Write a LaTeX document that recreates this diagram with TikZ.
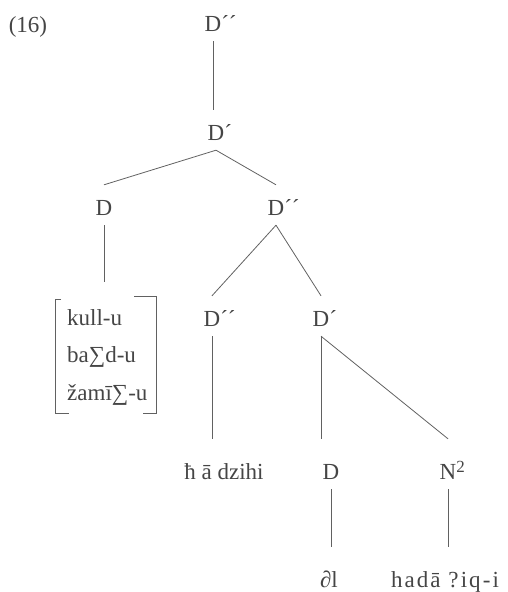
\documentclass[tikz,border=0pt]{standalone}
\usepackage{fontspec}
\setmainfont{Liberation Serif}
\usepackage{tikz}
\definecolor{Ink}{rgb}{0.27,0.27,0.27}
\tikzset{
  cat/.style={anchor=base, inner sep=0pt, text height=30pt, text depth=10pt},
  low/.style={cat, text height=40pt},
  leaf/.style={cat, text height=40pt},
  branch/.style={line width=0.8pt, Ink!85}
}

\begin{document}
\begin{tikzpicture}[x=1pt, y=-1pt, font=\fontsize{23}{37.5}\selectfont, color=Ink]
    \useasboundingbox (0,0) rectangle (508,592);
    \node[anchor=base] (ex) at (28,32) {(16)};
    % categories, placed at their baselines
    \node[cat] (top)  at (213,31)  {D\rlap{´´}};
    \node[cat] (dp1)  at (216,140) {D\rlap{´}};
    \node[cat] (d1)   at (104,215) {D};
    \node[cat] (dpp2) at (276,215) {D\rlap{´´}};
    \node[cat] (dpp3) at (212,326) {D\rlap{´´}};
    \node[cat] (dp2)  at (321,326) {D\rlap{´}};
    \node[low] (d2)   at (331,479) {D};
    \node[low] (n2)   at (448,479) {N\rlap{\raisebox{7pt}{\fontsize{17}{17}\selectfont 2}}};
    % words
    \node[leaf] (hadz)  at (224,479) {ħ ā dzihi};
    \node[leaf] (al)    at (329,587) {∂l};
    \node[leaf] (hadiq) at (445,587) {\addfontfeature{LetterSpace=9}hadā\ ?iq-i};
    \node[anchor=north west, inner sep=0pt, align=left] (list) at (67,309)
        {kull-u\\ba∑d-u\\žamī∑-u};
    \coordinate (lsttop) at (97,282);
    % bracket round the list
    \draw[branch] (61,299) -- (55,299) -- (55,413) -- (69,413);
    \draw[branch] (134,296) -- (156,296) -- (156,413) -- (143,413);
    % branches
    \draw[branch] (top.south) -- (top.south |- dp1.north);
    \draw[branch] (dp1.south) -- (d1.north);
    \draw[branch] (dp1.south) -- (dpp2.north);
    \draw[branch] (d1.south) -- (d1.south |- lsttop);
    \draw[branch] (dpp2.south) -- (dpp3.north);
    \draw[branch] (dpp2.south) -- (dp2.north);
    \draw[branch] (dpp3.south) -- (dpp3.south |- hadz.north);
    \draw[branch] (dp2.south) -- (dp2.south |- d2.north);
    \draw[branch] (dp2.south) -- (n2.north);
    \draw[branch] (d2.south) -- (d2.south |- al.north);
    \draw[branch] (n2.south) -- (n2.south |- hadiq.north);
\end{tikzpicture}
\end{document}
